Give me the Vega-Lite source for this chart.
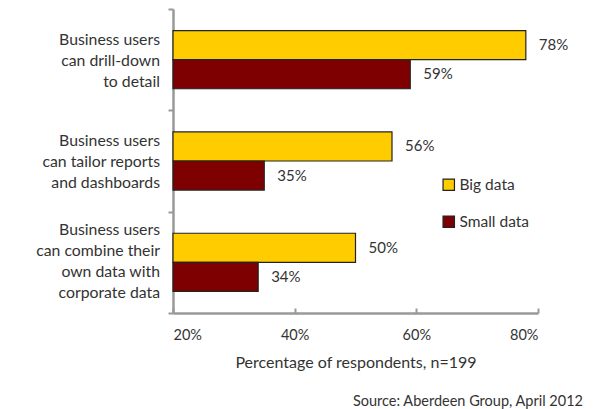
{
  "$schema": "https://vega.github.io/schema/vega-lite/v6.json",
  "width": 365,
  "height": 304,
  "autosize": "none",
  "padding": {"left": 173, "top": 9, "right": 67, "bottom": 96},
  "background": "white",
  "config": {"view": {"stroke": null}, "font": "Lato", "text": {"font": "Lato"}},
  "title": {"text": "Source: Aberdeen Group, April 2012", "orient": "bottom", "anchor": "end", "frame": "group", "fontSize": 14.5, "fontWeight": "normal", "color": "#333333", "dx": 45, "offset": 24},
  "data": {"values": [
    {"category": "Business users|can drill-down|to detail", "series": "Big data", "value": 78, "label": "78%", "lines": 3},
    {"category": "Business users|can drill-down|to detail", "series": "Small data", "value": 59, "label": "59%", "lines": 3},
    {"category": "Business users|can tailor reports|and dashboards", "series": "Big data", "value": 56, "label": "56%", "lines": 3},
    {"category": "Business users|can tailor reports|and dashboards", "series": "Small data", "value": 35, "label": "35%", "lines": 3},
    {"category": "Business users|can combine their|own data with|corporate data", "series": "Big data", "value": 50, "label": "50%", "lines": 4},
    {"category": "Business users|can combine their|own data with|corporate data", "series": "Small data", "value": 34, "label": "34%", "lines": 4}
  ]},
  "encoding": {
    "y": {"field": "category", "type": "nominal", "sort": null, "title": null,
      "scale": {"paddingInner": 0, "paddingOuter": 0},
      "axis": {"labels": false, "tickBand": "extent", "tickSize": 5, "tickColor": "#999999", "tickWidth": 2, "domainColor": "#999999", "domainWidth": 2.5}},
    "x": {"field": "value", "type": "quantitative", "scale": {"domain": [20, 80]},
      "axis": {"values": [20, 40, 60, 80], "labelExpr": "datum.value + '%'", "grid": false, "labelFontSize": 14.5, "labelColor": "#333333", "labelPadding": 20, "tickSize": -5, "tickColor": "#999999", "tickWidth": 2, "domainColor": "#999999", "domainWidth": 2.5, "title": "Percentage of respondents, n=199", "titleFontSize": 16, "titleFontWeight": "normal", "titleColor": "#333333", "titlePadding": 13}}
  },
  "layer": [
    {"mark": {"type": "bar", "stroke": "#222222", "strokeWidth": 1.2},
     "encoding": {
       "x2": {"datum": 20},
       "yOffset": {"field": "series", "sort": ["Big data", "Small data"], "scale": {"paddingInner": 0, "paddingOuter": 0.741}},
       "color": {"field": "series", "type": "nominal", "scale": {"domain": ["Big data", "Small data"], "range": ["#FFCC00", "#7F0000"]},
         "legend": {"title": null, "orient": "none", "legendX": 268, "legendY": 168, "symbolType": "square", "symbolSize": 130, "symbolStrokeColor": "#222222", "symbolStrokeWidth": 1.2, "labelFontSize": 15.5, "labelColor": "#333333", "rowPadding": 19, "labelOffset": 3}}
     }},
    {"mark": {"type": "text", "align": "left", "dx": 13, "fontSize": 15, "color": "#333333"},
     "encoding": {
       "yOffset": {"field": "series", "sort": ["Big data", "Small data"], "scale": {"paddingInner": 0, "paddingOuter": 0.741}},
       "text": {"field": "label"}}},
    {"transform": [{"filter": "datum.series == 'Big data' && datum.lines == 3"}],
     "mark": {"type": "text", "align": "right", "baseline": "middle", "dx": -13, "dy": -20, "lineBreak": "|", "lineHeight": 21, "fontSize": 15.8, "color": "#333333"},
     "encoding": {"x": {"datum": 20}, "text": {"field": "category"}}},
    {"transform": [{"filter": "datum.series == 'Big data' && datum.lines == 4"}],
     "mark": {"type": "text", "align": "right", "baseline": "middle", "dx": -13, "dy": -32, "lineBreak": "|", "lineHeight": 21, "fontSize": 15.8, "color": "#333333"},
     "encoding": {"x": {"datum": 20}, "text": {"field": "category"}}}
  ]
}
